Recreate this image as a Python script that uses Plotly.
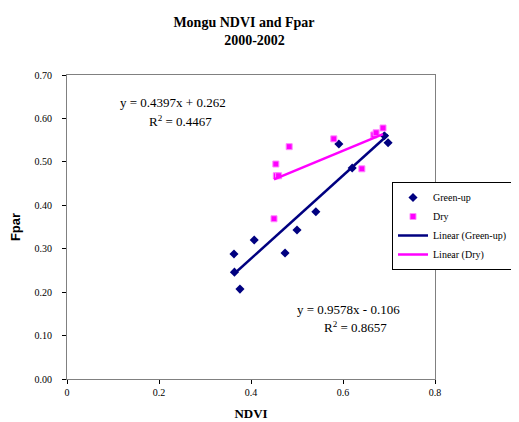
import plotly.graph_objects as go

# Data
green_ndvi = [0.363, 0.364, 0.376, 0.407, 0.474, 0.500, 0.541, 0.591, 0.620, 0.690, 0.698]
green_fpar = [0.288, 0.246, 0.207, 0.320, 0.290, 0.343, 0.385, 0.541, 0.486, 0.560, 0.544]
dry_ndvi = [0.450, 0.454, 0.455, 0.460, 0.483, 0.580, 0.641, 0.667, 0.672, 0.687]
dry_fpar = [0.369, 0.495, 0.468, 0.468, 0.535, 0.553, 0.484, 0.562, 0.567, 0.578]

green_slope, green_intercept, green_r2 = 0.9578, -0.106, 0.8657
dry_slope, dry_intercept, dry_r2 = 0.4397, 0.262, 0.4467

x_ticks = [0, 0.2, 0.4, 0.6, 0.8]
y_ticks = [0.0, 0.1, 0.2, 0.3, 0.4, 0.5, 0.6, 0.7]

SERIF = "Liberation Serif, Times New Roman, serif"
SANS = "Liberation Sans, Arial, sans-serif"
NAVY = "#000080"
MAGENTA = "#FF00FF"

def trend(xs, m, b):
    x0, x1 = min(xs), max(xs)
    return [x0, x1], [m * x0 + b, m * x1 + b]

gx, gy = trend(green_ndvi, green_slope, green_intercept)
dx, dy = trend(dry_ndvi, dry_slope, dry_intercept)

fig = go.Figure()
fig.add_trace(go.Scatter(x=green_ndvi, y=green_fpar, mode="markers", name="Green-up",
                         marker=dict(symbol="diamond", size=7, color=NAVY)))
fig.add_trace(go.Scatter(x=dry_ndvi, y=dry_fpar, mode="markers", name="Dry",
                         marker=dict(symbol="square", size=6, color=MAGENTA,
                                     line=dict(color="#FF88FF", width=1))))
fig.add_trace(go.Scatter(x=gx, y=gy, mode="lines", name="Linear (Green-up)",
                         line=dict(color=NAVY, width=2.5)))
fig.add_trace(go.Scatter(x=dx, y=dy, mode="lines", name="Linear (Dry)",
                         line=dict(color=MAGENTA, width=2.5)))

def fmt_eq(m, b):
    sign = "+" if b >= 0 else "-"
    return f"y = {m:.4f}x {sign} {abs(b):.3f}"

# plot area in figure pixels (page has an 8px body margin)
L, R, T, B = 59, 427, 67, 371
PW, PH = R - L, B - T
ann = [
    dict(x=(165 - L) / PW, y=(B - 94) / PH, text=fmt_eq(dry_slope, dry_intercept)),
    dict(x=(172 - L) / PW, y=(B - 113) / PH, text=f"R<sup>2</sup> = {dry_r2:.4f}"),
    dict(x=(340 - L) / PW, y=(B - 301) / PH, text=fmt_eq(green_slope, green_intercept)),
    dict(x=(347 - L) / PW, y=(B - 319) / PH, text=f"R<sup>2</sup> = {green_r2:.4f}"),
]
for a in ann:
    fig.add_annotation(xref="paper", yref="paper", x=a["x"], y=a["y"], text=a["text"],
                       showarrow=False, xanchor="center", yanchor="middle",
                       font=dict(family=SERIF, size=13, color="black"))

fig.update_layout(
    width=511, height=414,
    margin=dict(l=L, r=511 - R, t=T, b=414 - B, autoexpand=False),
    paper_bgcolor="white", plot_bgcolor="white",
    title=dict(text="<b>Mongu NDVI and Fpar<br>      2000-2002</b>", x=236 / 511, xanchor="center",
               y=1 - 19 / 414, yanchor="middle",
               font=dict(family=SERIF, size=14, color="black")),
    showlegend=True,
    legend=dict(x=(384 - L) / PW, y=(B - 218) / PH, xanchor="left", yanchor="middle",
                bgcolor="white", bordercolor="black", borderwidth=1,
                font=dict(family=SERIF, size=10, color="black"),
                tracegroupgap=0, itemwidth=30),
    xaxis=dict(range=[0, 0.8], tickvals=x_ticks, ticktext=[f"{v:g}" for v in x_ticks],
               automargin=False,
               showgrid=False, zeroline=False, showline=True, mirror=True,
               linecolor="#808080", linewidth=1, ticks="outside", ticklen=4, tickcolor="black",
               tickfont=dict(family=SERIF, size=10, color="black"),
               title=dict(text="<b>NDVI</b>", font=dict(family=SERIF, size=13, color="black"), standoff=11)),
    yaxis=dict(range=[0, 0.7], tickvals=y_ticks, ticktext=[f"{v:.2f}" for v in y_ticks],
               automargin=False,
               showgrid=False, zeroline=False, showline=True, mirror=True,
               linecolor="#808080", linewidth=1, ticks="outside", ticklen=4, tickcolor="black",
               tickfont=dict(family=SERIF, size=10, color="black"),
               ticklabelstandoff=8,
               title=dict(text="<b>Fpar</b>", font=dict(family=SANS, size=13, color="black"), standoff=12)),
)

fig.write_html("out.html")
